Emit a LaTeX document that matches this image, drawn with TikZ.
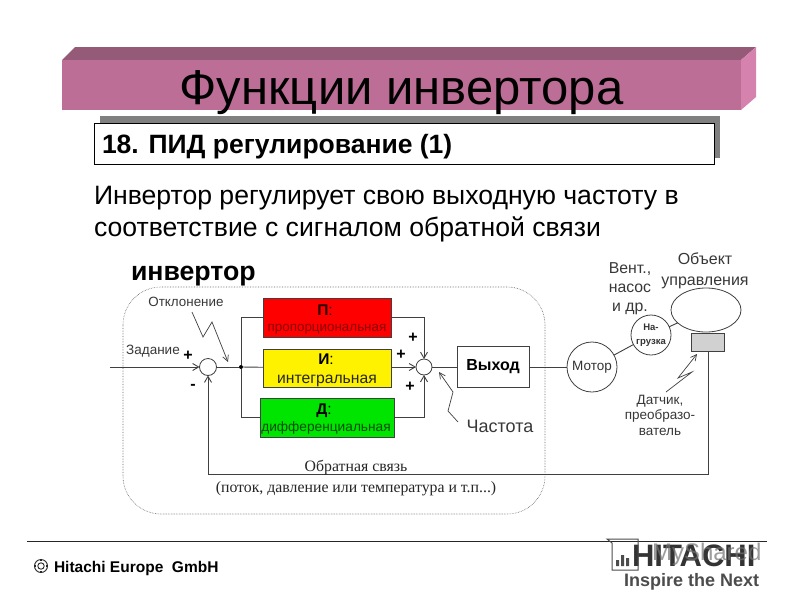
\documentclass[tikz,border=0pt]{standalone}
\usepackage{fontspec}
\setmainfont{Liberation Sans}
\newfontfamily\serifcyr{Liberation Serif}
\usetikzlibrary{arrows.meta,shapes.geometric}
\newcommand{\fs}[1]{\fontsize{#1}{#1}\selectfont}
\definecolor{banner}{HTML}{BC6E96}
\definecolor{bannertop}{HTML}{955A77}
\definecolor{bannerside}{HTML}{D682AE}
\definecolor{wire}{HTML}{404040}
\tikzset{
  x=1pt,y=-1pt,
  txt/.style={inner sep=0pt,outer sep=0pt,anchor=base,align=center},
  wirel/.style={draw=wire,line width=0.9pt},
  arr/.style={wirel,-{Straight Barb[length=6pt,width=7pt]}},
  zig/.style={draw=wire,line width=0.7pt,-{Straight Barb[length=6pt,width=6pt]}},
  blockbox/.style={draw=wire,line width=0.8pt,inner sep=0pt,outer sep=0pt,minimum height=#1,align=center},
  sumc/.style={circle,draw=wire,line width=0.8pt,fill=white,minimum size=17pt,inner sep=0pt,outer sep=0pt},
  round/.style={circle,draw=wire,line width=0.8pt,fill=white,inner sep=0pt,outer sep=0pt,align=center},
  gtext/.style={txt,text=black!78},
  sign/.style={txt,font=\bfseries\fs{16}},
}
\begin{document}
\begin{tikzpicture}
\useasboundingbox[fill=white] (0,0) rectangle (800,600);
% banner
\fill[bannertop] (62,60) -- (75,47) -- (756,47) -- (741,60) -- cycle;
\fill[bannerside] (741,60) -- (756,47) -- (756,97) -- (741,110) -- cycle;
\fill[banner] (62,60) rectangle (741,110);
\node[txt,font=\fs{49}] (title) at (401.5,104) {Функции инвертора};
% section box
\fill[black!50] (100,116) rectangle (720,158);
\node[draw=black,line width=0.7pt,fill=white,minimum width=620pt,minimum height=41pt,inner sep=0pt] (secbox) at (404,143.5) {};
\node[txt,anchor=base west,font=\bfseries\fs{26.5}] (sect) at (102,153) {18. ПИД регулирование (1)};
% lead text
\node[txt,anchor=base west,font=\fs{26.6}] (lead1) at (94,204) {Инвертор регулирует свою выходную частоту в};
\node[txt,anchor=base west,font=\fs{26.6}] (lead2) at (94,236) {соответствие с сигналом обратной связи};
\node[txt,anchor=base west,font=\bfseries\fs{26.7}] (invt) at (131,280) {инвертор};
% container
\draw[black!60,line width=0.6pt,densely dotted,rounded corners=38pt] (123,287) rectangle (545,514);
% blocks
\node[blockbox=39pt,minimum width=128pt,fill=red] (p) at (327,317.5) {};
\node[txt,font=\fs{15.5},text=black!85!red] (ptxt) at (325,315) {\textbf{П}:};
\node[txt,font=\fs{13.4},text=red!55!black] (ptxt2) at (327,331) {пропорциональная};
\node[blockbox=38pt,minimum width=128pt,fill=yellow] (i) at (327,368) {};
\node[txt,font=\fs{15.5}] (itxt) at (326,364) {\textbf{И}:};
\node[txt,font=\fs{15.7},text=black!85] (itxt2) at (327,383) {интегральная};
\node[blockbox=39pt,minimum width=134pt,fill=green!90!black] (d) at (327,417.5) {};
\node[txt,font=\fs{15.5}] (dtxt) at (324,414) {\textbf{Д}:};
\node[txt,font=\fs{13.7},text=green!30!black] (dtxt2) at (326,431) {дифференциальная};
\node[blockbox=41pt,minimum width=72pt,font=\bfseries\fs{16}] (out) at (493,366.5) {Выход};
% sums and round things
\node[sumc] (s1) at (208,367) {};
\node[sumc,minimum size=16pt] (s2) at (424,367) {};
\node[round,minimum size=50pt,font=\fs{13.5},text=black!80] (motor) at (592,367) {Мотор};
\node[round,minimum size=40pt,font=\bfseries\fs{9.5},text=black!80] (load) at (651,335) {На-\\[4pt]грузка};
\node[ellipse,draw=wire,line width=0.8pt,fill=white,minimum width=70pt,minimum height=44pt,inner sep=0pt,outer sep=0pt] (obj) at (706,310) {};
\node[draw=wire,line width=0.8pt,fill=black!18,minimum width=33pt,minimum height=18pt,inner sep=0pt,outer sep=0pt] (sens) at (707.5,342) {};
% junction and corners
\node[circle,fill=black,minimum size=4pt,inner sep=0pt] (j) at (241,367) {};
\coordinate (in) at (110,367);
\coordinate (fb1) at (708,474);
\coordinate (fb2) at (208,474);
% wires
\draw[arr] (in) -- (s1);
\draw[wirel] (s1) -- (j);
\draw[wirel] (j) -- (i);
\draw[wirel] (j) |- (p);
\draw[wirel] (j) |- (d);
\draw[arr] (p) -| (s2);
\draw[arr] (d) -| (s2);
\draw[arr] (i.east |- s2) -- (s2);
\draw[wirel] (s2) -- (out.west |- s2);
\draw[wirel] (out.east |- motor) -- (motor);
\draw[wirel] (motor) -- (load);
\draw[wirel] (load) -- (obj);
\draw[wirel] (sens.south -| fb1) -- (fb1) -- (fb2);
\draw[arr] (fb2) -- (s1);
% zigzag leaders
\coordinate (z1) at (192,312); \coordinate (z1e) at (228,362);
\draw[zig] (z1) -- (203,337) -- (212,322) -- (z1e);
\coordinate (z2) at (458,422); \coordinate (z2e) at (439,372);
\draw[zig] (z2) -- (448,411) -- (453,392) -- (z2e);
\coordinate (z3) at (666,392); \coordinate (z3e) at (697,354);
\draw[zig] (z3) -- (692,372) -- (678,378) -- (z3e);
% signs
\node[sign] (pl1) at (188,360) {+};
\node[sign] (mn1) at (193,389) {-};
\node[sign] (pl2) at (413,342) {+};
\node[sign] (pl3) at (401,359) {+};
\node[sign] (pl4) at (410,391) {+};
% labels
\node[gtext,font=\fs{13.4}] (otk) at (186,306) {Отклонение};
\node[gtext,font=\fs{13.5}] (zad) at (153,354) {Задание};
\node[gtext,font=\fs{18}] (chast) at (500,432) {Частота};
\node[gtext,font=\fs{15.8},anchor=north] (vent) at (630,263) {Вент.,\\[3pt]насос\\[3pt]и др.};
\node[gtext,font=\fs{16},anchor=north] (objl) at (705,253) {Объект\\[5pt]управления};
\node[gtext,font=\fs{13.5},anchor=north] (dat) at (660,395) {Датчик,\\[2pt]преобразо-\\[2pt]ватель};
\node[txt,font=\serifcyr\fs{15.8},text=black!85] (fbt1) at (356,471) {Обратная связь};
\node[txt,font=\serifcyr\fs{15.8},text=black!85] (fbt2) at (356,492) {(поток, давление или температура и т.п...)};
% footer
\coordinate (fl) at (27,541); \coordinate (fr) at (767,541);
\draw[black!85,line width=0.8pt] (fl) -- (fr);
\draw[black!85,line width=0.9pt] (41,566) circle (6.5);
\draw[black!85,line width=0.9pt] (41,566) circle (3.2);
\draw[black!85,line width=1.4pt] (34,566) -- (36,566) (46,566) -- (48,566) (41,559) -- (41,561) (41,571) -- (41,573);
\node[txt,anchor=base west,font=\bfseries\fs{15.5}] (hit) at (54,572) {Hitachi Europe\ \ GmbH};
% logo with watermark
\node[txt,anchor=base west,font=\bfseries\fs{31},text=black!80] (hl) at (632,566) {HITACHI};
\node[txt,anchor=base west,font=\fs{24},text=black!55,opacity=0.7] (ms) at (652,560) {MyShared};
\node[txt,anchor=base west,font=\bfseries\fs{18},text=black!70] (insp) at (624,586) {Inspire the Next};
\draw[black!70,line width=1pt] (607,539) -- (638,539) -- (638,570) -- (612,570) -- (612,543) -- cycle;
\fill[black!70] (616,566) rectangle (619,560) (621,566) rectangle (624,555) (626,566) rectangle (629,558);
\end{tikzpicture}
\end{document}
